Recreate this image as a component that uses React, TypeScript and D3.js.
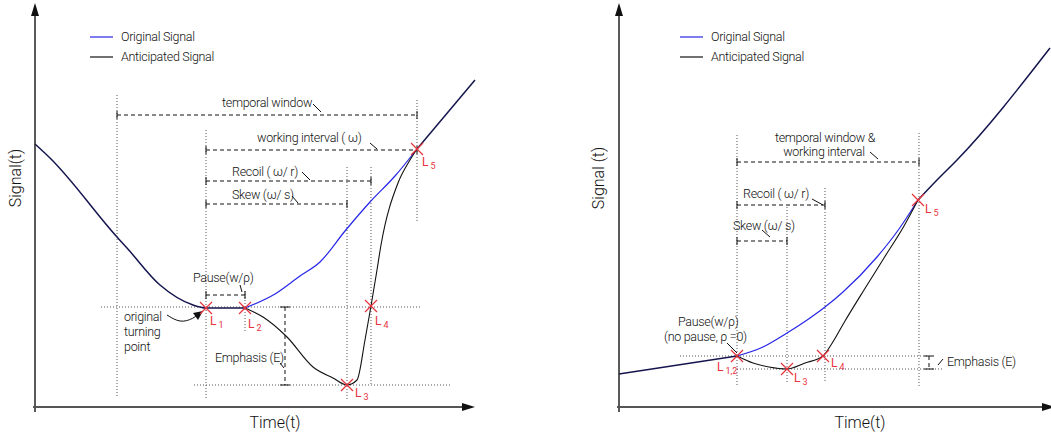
import React from 'react';
import * as d3 from 'd3';

const W = 1051;
const H = 436;

type Pt = [number, number];

// ---- left panel (time units, signal units) ----
const leftOriginal: Pt[] = [
  [0, 263], [15, 249], [82, 170], [92, 159], [125, 122], [158, 102], [171, 99],
  [210, 99], [240, 113], [265, 131], [285, 145], [310, 176], [335, 205], [360, 231],
  [382, 258], [440, 327],
];
const leftAnticipated: Pt[] = [
  [0, 263], [15, 249], [82, 170], [92, 159], [125, 122], [158, 102], [171, 99],
  [210, 99], [228, 90], [252, 70], [278, 40], [298, 29], [312, 22], [322, 27],
  [330, 67], [336, 101], [342, 137], [346, 162], [363, 224], [375, 247],
  [382, 258], [440, 327],
];
const leftMarkers = [
  { t: 171, s: 99, sub: '1', dx: 4, dy: 17 },
  { t: 210, s: 99, sub: '2', dx: 3, dy: 20 },
  { t: 312, s: 22, sub: '3', dx: 8, dy: 12 },
  { t: 336, s: 101, sub: '4', dx: 4, dy: 19 },
  { t: 382, s: 258, sub: '5', dx: 5, dy: 17 },
];
// vertical dotted guides: t, s from, s to
const leftGuidesV: [number, number, number][] = [
  [82, 312, 10], [171, 277, 7], [210, 116, 75], [312, 240, 7], [336, 240, 22], [382, 307, 185],
];
// horizontal dotted guides: s, t from, t to
const leftGuidesH: [number, number, number][] = [
  [100, 66, 387], [22, 159, 415],
];
// dimension lines: s, t from, t to
const leftDims: [number, number, number][] = [
  [292, 82, 382], [257, 171, 382], [226, 171, 336], [203, 171, 312], [112, 171, 210],
];
const leftEmphasis = { t: 250, s0: 100, s1: 22 };
const leftTexts = [
  { t: 187, s: 300, text: 'temporal window' },
  { t: 222, s: 265, text: 'working interval ( ω)' },
  { t: 197, s: 231, text: 'Recoil ( ω/ r)' },
  { t: 197, s: 208, text: 'Skew (ω/ s)' },
  { t: 158, s: 125, text: 'Pause(w/ρ)' },
  { t: 180, s: 45, text: 'Emphasis (E)' },
  { t: 89, s: 86, text: 'original' },
  { t: 89, s: 71, text: 'turning' },
  { t: 89, s: 56, text: 'point' },
];
const leftLeaders: [Pt, Pt][] = [
  [[278, 303], [286, 295]],
  [[335, 264], [342, 258]],
  [[267, 235], [275, 227]],
  [[257, 211], [263, 204]],
  [[205, 122], [207, 115]],
  [[245, 44], [249, 39]],
];
const leftArrow: Pt[] = [[132, 92], [145, 84], [158, 88], [168, 96]];

// ---- right panel ----
const rightOriginal: Pt[] = [
  [0, 33], [118, 51], [144, 60], [168, 74], [191, 89], [206, 100], [224, 115],
  [258, 150], [280, 178], [299, 207], [318, 227], [338, 247], [431, 359],
];
const rightAnticipated: Pt[] = [
  [0, 33], [118, 51], [134, 44], [150, 40], [168, 38], [186, 44], [204, 51],
  [212, 62], [226, 86], [245, 117], [265, 149], [285, 181], [299, 207],
  [318, 227], [338, 247], [431, 359],
];
const rightMarkers = [
  { t: 118, s: 51, sub: '1,2', dx: -20, dy: 15 },
  { t: 168, s: 38, sub: '3', dx: 7, dy: 13 },
  { t: 204, s: 51, sub: '4', dx: 8, dy: 11 },
  { t: 299, s: 207, sub: '5', dx: 7, dy: 13 },
];
const rightGuidesV: [number, number, number][] = [
  [118, 272, 22], [168, 200, 24], [206, 219, 24], [300, 274, 20],
];
const rightGuidesH: [number, number, number][] = [
  [51, 61, 309], [38, 118, 323],
];
const rightDims: [number, number, number][] = [
  [245, 118, 300], [202, 118, 206], [166, 118, 168],
];
const rightEmphasis = { t: 310, s0: 51, s1: 38 };
const rightTexts = [
  { t: 206, s: 265, text: 'temporal window &', anchor: 'middle' },
  { t: 205, s: 251, text: 'working interval', anchor: 'middle' },
  { t: 124, s: 209, text: 'Recoil ( ω/ r)' },
  { t: 114, s: 177, text: 'Skew (ω/ s)' },
  { t: 59, s: 81, text: 'Pause(w/ρ)' },
  { t: 45, s: 66, text: '(no pause, ρ =0)' },
  { t: 328, s: 41, text: 'Emphasis (E)' },
];
const rightLeaders: [Pt, Pt][] = [
  [[251, 255], [259, 248]],
  [[193, 208], [204, 202]],
  [[143, 177], [151, 170]],
  [[108, 64], [118, 54]],
  [[319, 42], [324, 48]],
];

const BLUE = '#2626e8';
const NAVY = '#15154f';
const RED = '#e8323c';
const FONT = 'Roboto, "Liberation Sans", sans-serif';

// split the two curves into the shared start / end and their own middle parts
function split(a: Pt[], b: Pt[]) {
  const same = (u: Pt, v: Pt) => u[0] === v[0] && u[1] === v[1];
  let p = 0;
  while (p < a.length && p < b.length && same(a[p], b[p])) p++;
  let q = 0;
  while (q < a.length && q < b.length && same(a[a.length - 1 - q], b[b.length - 1 - q])) q++;
  return {
    pre: a.slice(0, p),
    suf: a.slice(a.length - q),
    ownA: a.slice(Math.max(p - 1, 0), a.length - q + 1),
    ownB: b.slice(Math.max(p - 1, 0), b.length - q + 1),
  };
}

type PanelProps = {
  x0: number; x1: number; tMax: number; tEnd: number;
  original: Pt[]; anticipated: Pt[];
  markers: { t: number; s: number; sub: string; dx: number; dy: number }[];
  guidesV: [number, number, number][];
  guidesH: [number, number, number][];
  dims: [number, number, number][];
  emphasis: { t: number; s0: number; s1: number };
  texts: { t: number; s: number; text: string; anchor?: string }[];
  leaders: [Pt, Pt][];
  arrow?: Pt[];
  legendX: number;
  yLabel: string;
  yLabelX: number;
  xLabelT: number;
};

function Panel(p: PanelProps) {
  const x = d3.scaleLinear().domain([0, p.tMax]).range([p.x0, p.x1]);
  const y = d3.scaleLinear().domain([0, 400]).range([407, 7]);
  const line = d3.line<Pt>().x((d) => x(d[0])).y((d) => y(d[1])).curve(d3.curveMonotoneX);
  const parts = split(p.original, p.anticipated);
  const ax = x(0);
  const ay = y(0);
  const xEnd = x(p.tEnd);

  return (
    <g fontFamily={FONT} fontWeight={300}>
      {/* guides */}
      {p.guidesV.map(([t, s0, s1], i) => (
        <line key={'gv' + i} x1={x(t)} x2={x(t)} y1={y(s0)} y2={y(s1)}
          stroke="#555" strokeWidth={1} strokeDasharray="1,2" />
      ))}
      {p.guidesH.map(([s, t0, t1], i) => (
        <line key={'gh' + i} x1={x(t0)} x2={x(t1)} y1={y(s)} y2={y(s)}
          stroke="#555" strokeWidth={1} strokeDasharray="1,2" />
      ))}
      {/* dimension lines */}
      {p.dims.map(([s, t0, t1], i) => (
        <g key={'dm' + i} stroke="#111" strokeWidth={1}>
          <line x1={x(t0)} x2={x(t1)} y1={y(s)} y2={y(s)} strokeDasharray="4,3" />
          <line x1={x(t0)} x2={x(t0)} y1={y(s) - 4} y2={y(s) + 4} />
          <line x1={x(t1)} x2={x(t1)} y1={y(s) - 4} y2={y(s) + 4} />
        </g>
      ))}
      <g stroke="#111" strokeWidth={1}>
        <line x1={x(p.emphasis.t)} x2={x(p.emphasis.t)} y1={y(p.emphasis.s0)} y2={y(p.emphasis.s1)}
          strokeDasharray="4,3" />
        <line x1={x(p.emphasis.t) - 5} x2={x(p.emphasis.t) + 5} y1={y(p.emphasis.s0)} y2={y(p.emphasis.s0)} />
        <line x1={x(p.emphasis.t) - 5} x2={x(p.emphasis.t) + 5} y1={y(p.emphasis.s1)} y2={y(p.emphasis.s1)} />
      </g>
      {p.leaders.map(([a, b], i) => (
        <line key={'ld' + i} x1={x(a[0])} y1={y(a[1])} x2={x(b[0])} y2={y(b[1])}
          stroke="#111" strokeWidth={1} />
      ))}
      {/* curves */}
      <path d={line(parts.ownA) || ''} fill="none" stroke={BLUE} strokeWidth={1.2} />
      <path d={line(parts.ownB) || ''} fill="none" stroke="#111" strokeWidth={1.1} />
      <path d={line(parts.pre) || ''} fill="none" stroke={NAVY} strokeWidth={1.5} />
      <path d={line(parts.suf) || ''} fill="none" stroke={NAVY} strokeWidth={1.5} />
      {/* turning point arrow */}
      {p.arrow && (
        <g>
          <path d={d3.line<Pt>().x((d) => x(d[0])).y((d) => y(d[1])).curve(d3.curveBasis)(p.arrow) || ''}
            fill="none" stroke="#111" strokeWidth={1} />
          {(() => {
            const tip = p.arrow[p.arrow.length - 1];
            const tx = x(tip[0]);
            const ty = y(tip[1]);
            return <path d={`M${tx},${ty} L${tx - 10},${ty + 2} L${tx - 5},${ty + 9} Z`} fill="#111" />;
          })()}
        </g>
      )}
      {/* markers */}
      {p.markers.map((m, i) => {
        const mx = x(m.t);
        const my = y(m.s);
        return (
          <g key={'mk' + i}>
            <path d={`M${mx - 6},${my - 6}L${mx + 6},${my + 6}M${mx - 6},${my + 6}L${mx + 6},${my - 6}`}
              stroke={RED} strokeWidth={1.2} />
            <text x={mx + m.dx} y={my + m.dy} fill={RED} fontSize={12} fontWeight={400}>
              L<tspan fontSize={9} dx={2} dy={3}>{m.sub}</tspan>
            </text>
          </g>
        );
      })}
      {/* texts */}
      {p.texts.map((tx, i) => (
        <text key={'tx' + i} x={x(tx.t)} y={y(tx.s)} fontSize={12.5} fill="#111"
          textAnchor={tx.anchor || 'start'} letterSpacing={-0.3}>{tx.text}</text>
      ))}
      {/* legend */}
      <line x1={p.legendX} x2={p.legendX + 23} y1={37} y2={37} stroke={BLUE} strokeWidth={1.2} />
      <text x={p.legendX + 31} y={41} fontSize={12.5} fill="#111" letterSpacing={-0.3}>Original Signal</text>
      <line x1={p.legendX} x2={p.legendX + 23} y1={57} y2={57} stroke="#111" strokeWidth={1.2} />
      <text x={p.legendX + 31} y={61} fontSize={12.5} fill="#111" letterSpacing={-0.3}>Anticipated Signal</text>
      {/* axes */}
      <line x1={ax} x2={ax} y1={ay + 5} y2={8} stroke="#222" strokeWidth={1.5} />
      <path d={`M${ax},3 L${ax - 4},16 L${ax + 4},16 Z`} fill="#111" />
      <line x1={ax - 2} x2={xEnd - 8} y1={ay} y2={ay} stroke="#555" strokeWidth={2} />
      <path d={`M${xEnd},${ay} L${xEnd - 13},${ay - 4} L${xEnd - 13},${ay + 4} Z`} fill="#111" />
      <text x={x(p.xLabelT)} y={428} fontSize={16} fill="#111" textAnchor="middle">Time(t)</text>
      <text transform={`translate(${p.yLabelX},178) rotate(-90)`} fontSize={16} fill="#111"
        textAnchor="middle">{p.yLabel}</text>
    </g>
  );
}

export default function App() {
  return (
    <svg width={W} height={H} style={{ position: 'absolute', left: 0, top: 0, background: '#fff' }}>
      <Panel x0={35} x1={475} tMax={440} tEnd={440}
        original={leftOriginal} anticipated={leftAnticipated} markers={leftMarkers}
        guidesV={leftGuidesV} guidesH={leftGuidesH} dims={leftDims} emphasis={leftEmphasis}
        texts={leftTexts} leaders={leftLeaders} arrow={leftArrow}
        legendX={90} yLabel="Signal(t)" yLabelX={21} xLabelT={240} />
      <Panel x0={619} x1={1050} tMax={431} tEnd={436}
        original={rightOriginal} anticipated={rightAnticipated} markers={rightMarkers}
        guidesV={rightGuidesV} guidesH={rightGuidesH} dims={rightDims} emphasis={rightEmphasis}
        texts={rightTexts} leaders={rightLeaders}
        legendX={680} yLabel="Signal (t)" yLabelX={604} xLabelT={241} />
    </svg>
  );
}
